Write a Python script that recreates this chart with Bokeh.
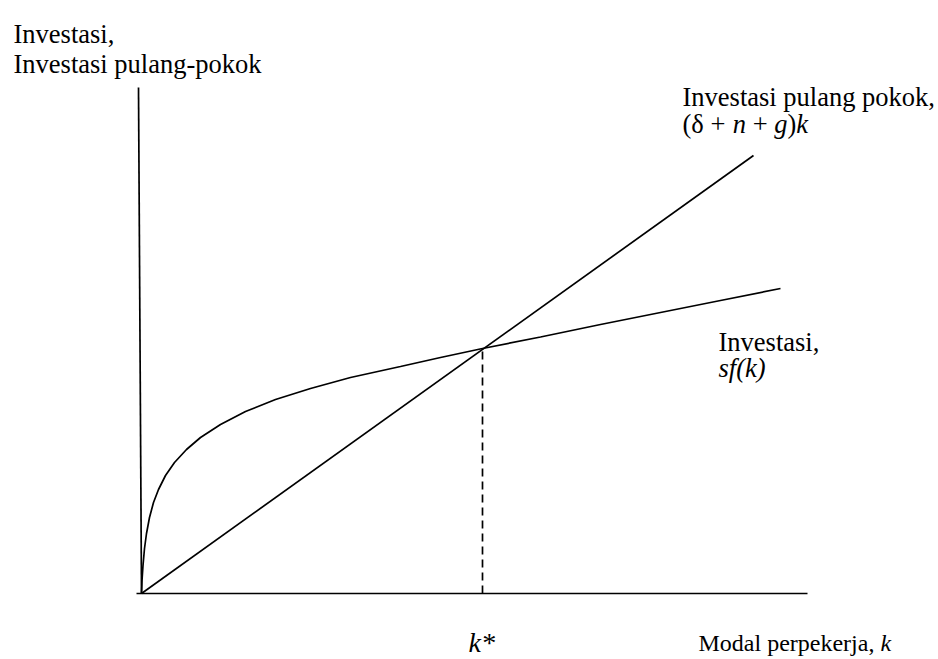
from bokeh.plotting import figure
from bokeh.models import Range1d, Label
from bokeh.embed import file_html
from bokeh.resources import INLINE

# --- data (model units) ---
curve_k = [0, 0.005, 0.015, 0.03, 0.05, 0.08, 0.12, 0.17, 0.24, 0.33, 0.45, 0.59, 0.79, 1.04,
           1.34, 1.69, 2.09, 2.59, 2.99, 3.41, 3.99, 4.59, 5.19, 5.79, 6.39]
curve_inv = [0, 0.13, 0.28, 0.45, 0.60, 0.76, 0.91, 1.04, 1.18, 1.31, 1.44, 1.56, 1.69, 1.82,
             1.94, 2.05, 2.16, 2.27, 2.36, 2.45, 2.565, 2.69, 2.81, 2.93, 3.05]
break_k = [0, 6.12]
break_inv = [0, 4.38]
k_star = 3.41
inv_star = 2.45
xaxis_k = [-0.05, 6.66]
xaxis_inv = [0, 0]
yaxis_k = [0, -0.03]
yaxis_inv = [0, 5.06]

W, H = 938, 659
OX, OY = 141.0, 593.0   # pixel position of origin
S = 100.0               # pixels per unit
p = figure(width=W, height=H, output_backend="svg", toolbar_location=None,
           x_range=Range1d(-OX / S, (W - OX) / S), y_range=Range1d((OY - H) / S, OY / S),
           min_border=0, outline_line_color=None)
p.axis.visible = False
p.grid.visible = False

lw = 1.7
p.line(xaxis_k, xaxis_inv, line_color="black", line_width=lw)
p.line(yaxis_k, yaxis_inv, line_color="black", line_width=lw)
p.line(break_k, break_inv, line_color="black", line_width=lw)
p.line(curve_k, curve_inv, line_color="black", line_width=lw)
p.line([k_star, k_star], [0, inv_star], line_color="black", line_width=lw, line_dash="8 5")

FONT = "Liberation Serif"
FS = 26.5
NB = "\u00a0"


def lab(text, x_img, y_img, italic=False, size=FS):
    p.add_layout(Label(x=x_img, y=H - y_img, x_units="screen", y_units="screen",
                       text=text.replace(" ", NB), text_font=FONT, text_font_size=f"{size}px",
                       text_font_style="italic" if italic else "normal",
                       text_color="black", text_baseline="alphabetic", text_align="left"))


em = FS / 1000.0
lab("Investasi,", 13, 33)
lab("Investasi pulang-pokok", 13, 63)
lab("Investasi pulang pokok,", 682, 96)

# (δ + n + g)k
x = 682
pieces = [("(\u03b4 + ", False, 1897), ("n", True, 500), (" + ", False, 1064),
          ("g", True, 500), (")", False, 333), ("k", True, 444)]
for t, it, w in pieces:
    lab(t, x, 123, italic=it)
    x += w * em

lab("Investasi,", 718, 341)
lab("sf(k)", 718, 367, italic=True)

lab("k*", 468, 642, italic=True, size=28)
FS2 = 24
lab("Modal perpekerja,", 698, 642, size=FS2)
lab("k", 698 + (2611 + 250 + 4220 + 250 + 250) * FS2 / 1000.0, 642, italic=True, size=FS2)

open("out.html", "w").write(file_html(p, INLINE))
